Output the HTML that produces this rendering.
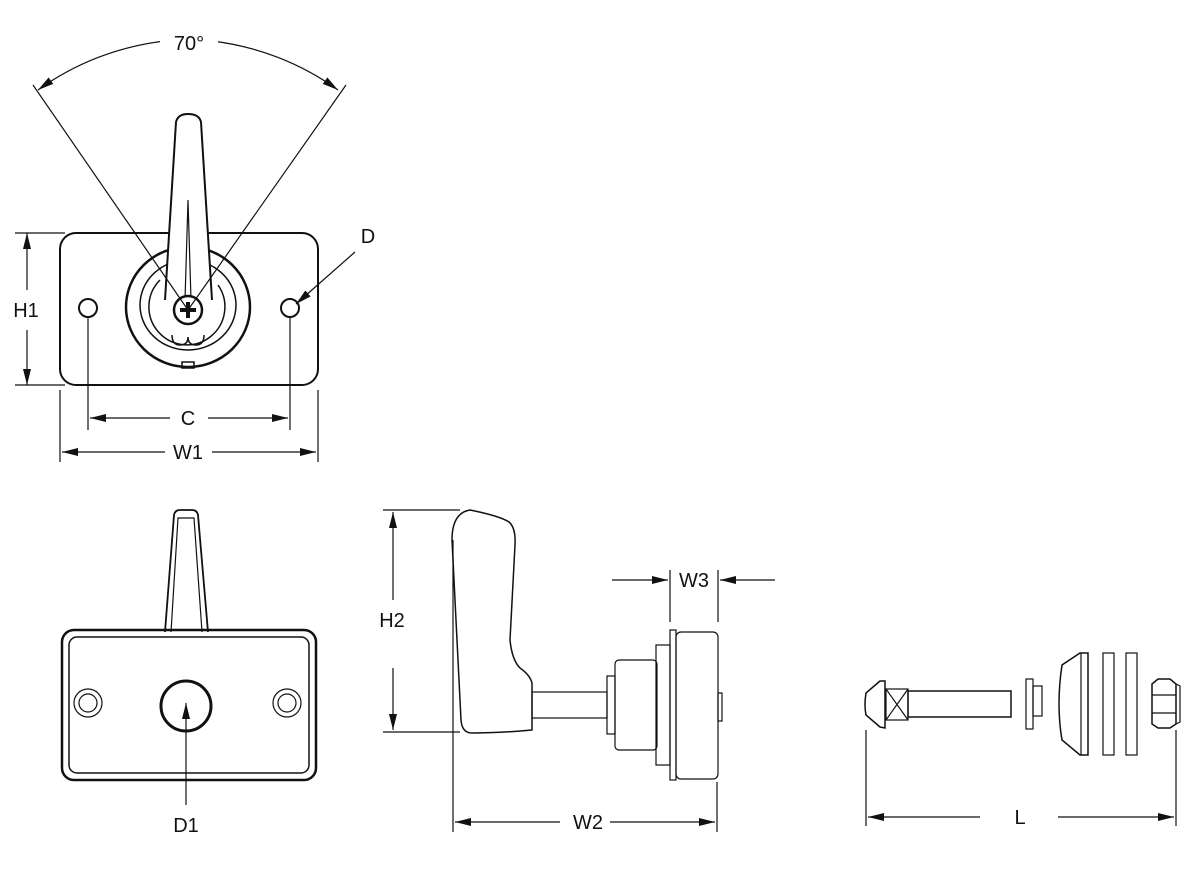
<!DOCTYPE html>
<html><head><meta charset="utf-8"><style>
html,body{margin:0;padding:0;background:#fff;}
svg{display:block;}
text{font-family:"Liberation Sans",sans-serif;font-size:20px;fill:#111;text-anchor:middle;}
</style></head><body>
<svg width="1200" height="880" viewBox="0 0 1200 880" xmlns="http://www.w3.org/2000/svg">
<defs>
<marker id="a" viewBox="0 0 16 8" refX="16" refY="4" markerWidth="16" markerHeight="8" markerUnits="userSpaceOnUse" orient="auto-start-reverse"><path d="M0,0 L16,4 L0,8 z" fill="#111"/></marker>
</defs>
<g fill="none" stroke="#111" stroke-width="1.2">
<!-- TOP VIEW -->
<rect x="60" y="233" width="258" height="152" rx="16" stroke-width="2"/>
<circle cx="88" cy="308" r="9" stroke-width="2"/>
<circle cx="290" cy="308" r="9" stroke-width="2"/>
<ellipse cx="188" cy="307" rx="62" ry="60" stroke-width="2.5"/>
<ellipse cx="188" cy="305" rx="48" ry="45" stroke-width="1.5"/>
<path d="M160,280 A38,38 0 1 0 218,285" stroke-width="1.5"/>
<path d="M172,335 q0,10 8,10 q8,0 8,-8 q0,8 8,8 q8,0 8,-10" stroke-width="1.5"/>
<rect x="182" y="362" width="12" height="6" stroke-width="1.5"/>
<path d="M165,300 L176,122 Q178,114 188,114 Q199,114 201,122 L212,300" fill="#fff" stroke-width="2"/>
<path d="M185,300 L188,200 L191,300" stroke-width="1.2"/>
<circle cx="188" cy="310" r="14" fill="#fff" stroke-width="2.5"/>
<path d="M188,302 V318 M180,310 H196" stroke-width="4"/>
<line x1="188" y1="310" x2="33" y2="85"/>
<line x1="188" y1="310" x2="346" y2="85"/>
<path d="M38,90 A270,270 0 0 1 165,41" marker-start="url(#a)"/>
<path d="M212,41 A270,270 0 0 1 338,90" marker-end="url(#a)"/>
<!-- H1 -->
<line x1="15" y1="233" x2="65" y2="233"/><line x1="15" y1="385" x2="65" y2="385"/>
<line x1="27" y1="290" x2="27" y2="233" marker-end="url(#a)"/>
<line x1="27" y1="330" x2="27" y2="385" marker-end="url(#a)"/>
<!-- C / W1 -->
<line x1="88" y1="317" x2="88" y2="430"/><line x1="290" y1="317" x2="290" y2="430"/>
<line x1="60" y1="390" x2="60" y2="462"/><line x1="318" y1="390" x2="318" y2="462"/>
<line x1="170" y1="418" x2="90" y2="418" marker-end="url(#a)"/>
<line x1="208" y1="418" x2="288" y2="418" marker-end="url(#a)"/>
<line x1="165" y1="452" x2="62" y2="452" marker-end="url(#a)"/>
<line x1="212" y1="452" x2="316" y2="452" marker-end="url(#a)"/>
<line x1="355" y1="252" x2="296" y2="304" marker-end="url(#a)"/>
<!-- FRONT VIEW -->
<path d="M165,632 L174,515 Q175,510 180,510 L192,510 Q197,510 198,515 L208,632" stroke-width="1.8"/>
<path d="M171,632 L178,518 L194,518 L202,632" stroke-width="1.2"/>
<rect x="62" y="630" width="254" height="150" rx="12" stroke-width="2.5"/>
<rect x="69" y="637" width="240" height="136" rx="8" stroke-width="1.5"/>
<circle cx="88" cy="703" r="14"/><circle cx="88" cy="703" r="9"/>
<circle cx="287" cy="703" r="14"/><circle cx="287" cy="703" r="9"/>
<circle cx="186" cy="706" r="25" stroke-width="3"/>
<line x1="186" y1="805" x2="186" y2="703" marker-end="url(#a)"/>
<!-- SIDE VIEW -->
<line x1="383" y1="510" x2="460" y2="510"/><line x1="383" y1="732" x2="460" y2="732"/>
<line x1="393" y1="600" x2="393" y2="512" marker-end="url(#a)"/>
<line x1="393" y1="668" x2="393" y2="730" marker-end="url(#a)"/>
<path d="M452,540 Q452,513 470,510 Q500,516 509,522 Q516,528 515,545 L510,640 Q512,660 520,668 Q530,675 532,683 L532,730 Q500,733 472,733 Q462,733 461,720 Z" stroke-width="1.5"/>
<rect x="532" y="692" width="75" height="26"/>
<rect x="607" y="676" width="8" height="58"/>
<rect x="615" y="660" width="42" height="90" rx="4"/>
<rect x="656" y="645" width="14" height="120"/>
<rect x="670" y="630" width="6" height="150"/>
<rect x="676" y="632" width="42" height="147" rx="5"/>
<rect x="718" y="693" width="4" height="28"/>
<line x1="453" y1="540" x2="453" y2="832"/><line x1="717" y1="782" x2="717" y2="832"/>
<line x1="560" y1="822" x2="455" y2="822" marker-end="url(#a)"/>
<line x1="610" y1="822" x2="715" y2="822" marker-end="url(#a)"/>
<line x1="670" y1="570" x2="670" y2="622"/><line x1="718" y1="570" x2="718" y2="622"/>
<line x1="612" y1="580" x2="668" y2="580" marker-end="url(#a)"/>
<line x1="775" y1="580" x2="720" y2="580" marker-end="url(#a)"/>
<!-- EXPLODED -->
<path d="M880,681 L866,693 Q864,705 866,715 L880,727 L885,728 L885,681 Z" stroke-width="1.5"/>
<rect x="886" y="689" width="22" height="31"/>
<path d="M886,689 L908,720 M908,689 L886,720"/>
<rect x="908" y="691" width="103" height="26" stroke-width="1.5"/>
<rect x="1026" y="679" width="7" height="50"/>
<rect x="1033" y="686" width="9" height="30"/>
<path d="M1088,653 L1088,755 L1080,755 L1062,740 Q1056,705 1062,665 L1080,653 Z" stroke-width="1.5"/>
<line x1="1081" y1="653" x2="1081" y2="755"/>
<rect x="1103" y="653" width="11" height="102"/>
<rect x="1126" y="653" width="11" height="102"/>
<path d="M1152,684 L1158,679 L1170,679 L1176,684 L1176,724 L1170,728 L1158,728 L1152,724 Z" stroke-width="1.5"/>
<path d="M1152,695 L1176,695 M1152,713 L1176,713 M1176,684 L1180,686 L1180,722 L1176,724"/>
<line x1="866" y1="730" x2="866" y2="826"/><line x1="1176" y1="730" x2="1176" y2="826"/>
<line x1="980" y1="817" x2="868" y2="817" marker-end="url(#a)"/>
<line x1="1058" y1="817" x2="1174" y2="817" marker-end="url(#a)"/>
</g>
<rect x="160" y="25" width="58" height="28" fill="#fff"/>
<text x="189" y="50">70°</text>
<text x="26" y="317">H1</text>
<text x="188" y="425">C</text>
<text x="188" y="459">W1</text>
<text x="368" y="243">D</text>
<text x="186" y="832">D1</text>
<text x="392" y="627">H2</text>
<text x="588" y="829">W2</text>
<text x="694" y="587">W3</text>
<text x="1020" y="824">L</text>
</svg>
</body></html>
